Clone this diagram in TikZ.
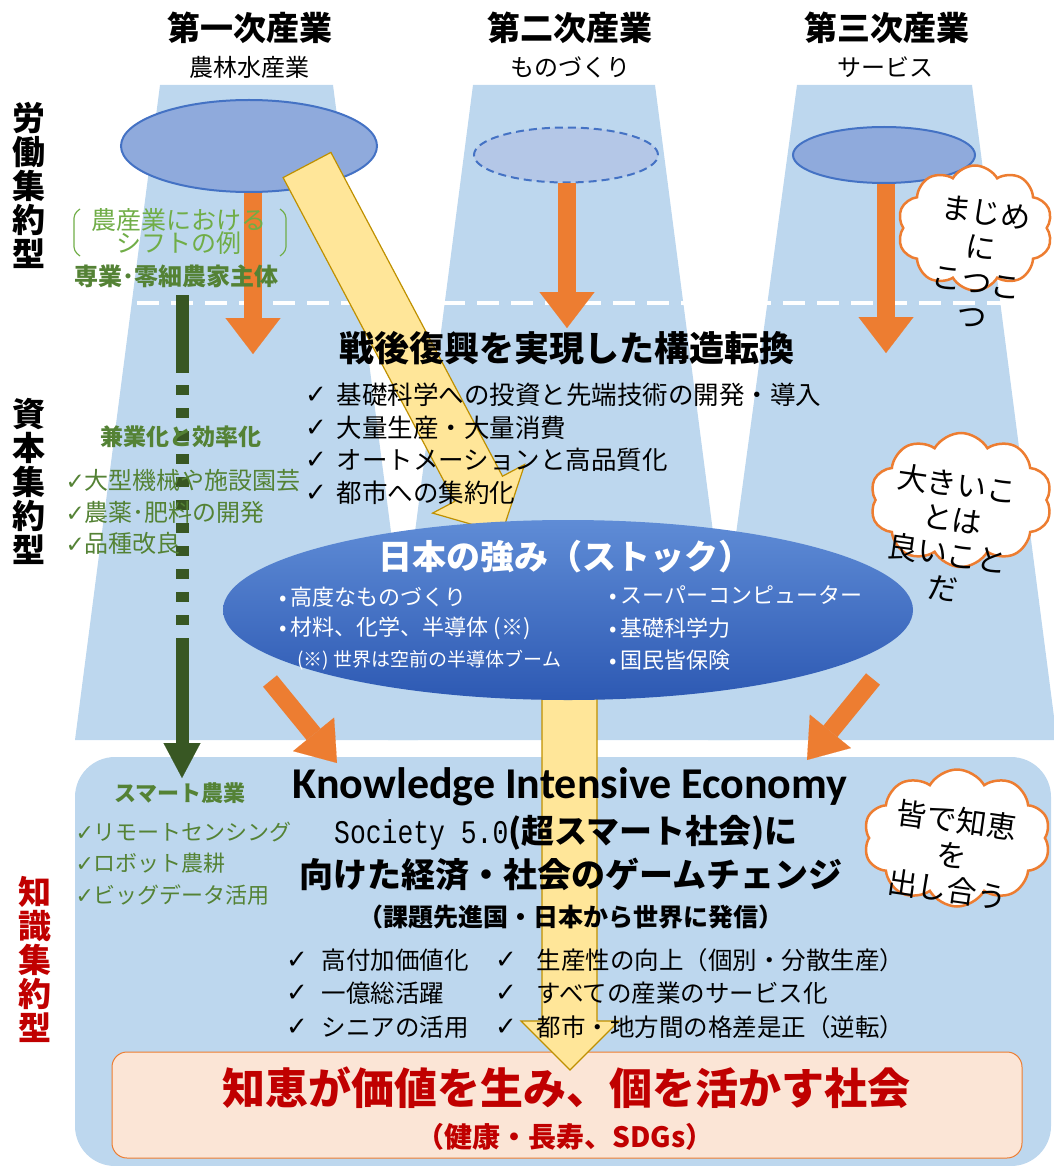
\documentclass[tikz,border=0pt]{standalone}
\usepackage{fontspec}
\setmainfont{Noto Sans CJK JP}
\newfontfamily\dejavu{DejaVu Sans}
\newfontfamily\carlito{Carlito}
\newfontfamily\monof[FakeStretch=0.8]{Liberation Mono}
\usetikzlibrary{shapes.geometric,shapes.symbols,arrows.meta}
\newcommand{\fsz}[2]{\fontsize{#1}{#2}\selectfont}
\newcommand{\chk}{{\dejavu ✓}}
\definecolor{lblue}{HTML}{BDD7EE}
\definecolor{ellfill}{HTML}{8FAADC}
\definecolor{ellfilltwo}{HTML}{B4C7E7}
\definecolor{ellline}{HTML}{4472C4}
\definecolor{orng}{HTML}{ED7D31}
\definecolor{ylw}{HTML}{FFE699}
\definecolor{ylwline}{HTML}{BF9000}
\definecolor{grn}{HTML}{548235}
\definecolor{lgrn}{HTML}{70AD47}
\definecolor{dgrn}{HTML}{385723}
\definecolor{redc}{HTML}{C00000}
\definecolor{pinkf}{HTML}{FBE5D6}
\definecolor{bigtop}{HTML}{5F8CD6}
\definecolor{bigbot}{HTML}{2D59B3}
\begin{document}
\begin{tikzpicture}[x=1pt,y=-1pt,
  hdr/.style={font=\bfseries\fsz{33}{36}},
  subhdr/.style={font=\fsz{24}{28}},
  vlab/.style={font=\bfseries\fsz{33}{34},align=center},
  colell/.style={ellipse,draw=ellline,line width=2pt,fill=ellfill,inner sep=0pt},
  orarr/.style={draw=orng,line width=18pt,-{Triangle[length=36pt,width=55pt,line width=0.1pt]}},
  ylwshape/.style={fill=ylw,draw=ylwline,line width=1.2pt,line join=miter},
  gtxt/.style={text=grn,font=\fsz{24}{28},anchor=west},
  gbold/.style={text=grn,font=\bfseries\fsz{23}{28}},
  ctxt/.style={font=\fsz{25.5}{30},anchor=west},
  etxt/.style={text=white,font=\fsz{22}{26},anchor=west},
  btxt/.style={font=\fsz{24.5}{30},anchor=west},
  cloudbox/.style={cloud,cloud puffs=10,cloud puff arc=120,draw=orng,fill=white,line width=2.5pt,inner sep=0pt},
  cloudtxt/.style={font=\fsz{30}{35},align=center,rotate=-8}]
\useasboundingbox (0,0) rectangle (1053,1166);
% column trapezoids
\fill[lblue] (160,85) -- (333,85) -- (418,740) -- (75,740) -- cycle;
\fill[lblue] (473,85) -- (655,85) -- (740,740) -- (388,740) -- cycle;
\fill[lblue] (797,85) -- (972,85) -- (1057,740) -- (708,740) -- cycle;
% knowledge area
\fill[lblue,rounded corners=40pt] (75,757) rectangle (1051,1166);
% dashed boundary
\coordinate (dl) at (137,303);
\coordinate (dr) at (1010,303);
\draw[white,line width=4pt,dash pattern=on 22pt off 12pt] (dl) -- (dr);
% column headers
\node[hdr] (h1) at (250,28) {第一次産業};
\node[subhdr] (s1) at (249,67) {農林水産業};
\node[hdr] (h2) at (570,28) {第二次産業};
\node[subhdr] (s2) at (570,67) {ものづくり};
\node[hdr] (h3) at (887,28) {第三次産業};
\node[subhdr] (s3) at (885,67) {サービス};
% vertical labels
\node[vlab] (v1) at (29,185) {労\\働\\集\\約\\型};
\node[vlab] (v2) at (29,481) {資\\本\\集\\約\\型};
\node[vlab,text=redc] (v3) at (35,959) {知\\識\\集\\約\\型};
% column ellipses
\node[colell,minimum width=256pt,minimum height=92pt] (e1) at (249,146) {};
\node[ellipse,draw=ellline,dash pattern=on 8pt off 5pt,line width=2pt,fill=ellfilltwo,inner sep=0pt,minimum width=184pt,minimum height=55pt] (e2) at (566,155) {};
\node[colell,minimum width=182pt,minimum height=56pt] (e3) at (884,155) {};
% orange down arrows
\coordinate (t1) at (253,354);
\coordinate (t2) at (567,328);
\coordinate (t3) at (886,353);
\draw[orarr] (t1 |- e1.south) -- (t1);
\draw[orarr] (t2 |- e2.south) -- (t2);
\draw[orarr] (t3 |- e3.south) -- (t3);
% yellow diagonal arrow
\filldraw[ylwshape] (330.9,152.4) -- (502.5,476.2) -- (524.6,464.5) -- (502,533) -- (432.6,513.1) -- (454.7,501.4) -- (283.1,177.6) -- cycle;
% clouds
\node[cloudbox,minimum width=155pt,minimum height=125pt,aspect=1.24] (c1) at (975,228) {};
\node[cloudtxt] (c1t) at (979,264) {まじめ\\に\\こつこ\\つ};
\node[cloudbox,minimum width=182pt,minimum height=134pt,aspect=1.36] (c2) at (961,500) {};
\node[cloudtxt] (c2t) at (950,536) {大きいこ\\とは\\良いこと\\だ};
% green shift example
\draw[lgrn,line width=1.2pt,rounded corners=4pt] (80,209) -- (74,214) -- (74,251) -- (80,256);
\draw[lgrn,line width=1.2pt,rounded corners=4pt] (280,209) -- (286,214) -- (286,251) -- (280,256);
\node[text=lgrn,font=\fsz{25}{23},align=center] (shift) at (179,232) {農産業における\\シフトの例};
\node[gbold,font=\bfseries\fsz{24}{28}] (g0) at (176,276) {専業･零細農家主体};
% dark green dash-dot arrow
\coordinate (gs) at (182,295);
\coordinate (ge) at (182,778);
\draw[dgrn,line width=13pt,dash pattern=on 78pt off 12pt on 10pt off 13pt on 10pt off 13pt on 10pt off 13pt on 10pt off 13pt on 10pt off 13pt on 10pt off 13pt on 10pt off 13pt on 10pt off 13pt on 10pt off 13pt on 10pt off 13pt on 10pt off 13pt on 300pt off 10pt,-{Triangle[length=35pt,width=37pt,line width=0.1pt]}] (gs) -- (ge);
\node[gbold] (g1) at (181,437) {兼業化と効率化};
\node[gtxt] (g2) at (62,480) {{\dejavu\fsz{23}{24}✓}大型機械や施設園芸};
\node[gtxt] (g3) at (62,512) {{\dejavu\fsz{23}{24}✓}農薬･肥料の開発};
\node[gtxt] (g4) at (62,543) {{\dejavu\fsz{23}{24}✓}品種改良};
% postwar block
\node[font=\bfseries\fsz{35}{40}] (pw) at (567,348) {戦後復興を実現した構造転換};
\node[font=\fsz{26}{28}] (pc1) at (316,395) {\chk};
\node[font=\fsz{26}{28}] (pc2) at (316,428) {\chk};
\node[font=\fsz{26}{28}] (pc3) at (316,460) {\chk};
\node[font=\fsz{26}{28}] (pc4) at (316,493) {\chk};
\node[ctxt] (p1) at (333,395) {基礎科学への投資と先端技術の開発・導入};
\node[ctxt] (p2) at (333,428) {大量生産・大量消費};
\node[ctxt] (p3) at (333,460) {オートメーションと高品質化};
\node[ctxt] (p4) at (333,493) {都市への集約化};
% goal box
\node[draw=orng,fill=pinkf,rounded corners=15pt,line width=1pt,minimum width=910pt,minimum height=106pt] (pb) at (567,1105) {};
% vertical yellow arrow
\filldraw[ylwshape] (542,690) -- (597,690) -- (597,1021) -- (619,1021) -- (570,1070) -- (521,1021) -- (542,1021) -- cycle;
% strength ellipse
\node[ellipse,top color=bigtop,bottom color=bigbot,inner sep=0pt,minimum width=690pt,minimum height=180pt] (big) at (568,610) {};
\node[text=white,font=\bfseries\fsz{34}{38}] (bt) at (565,557) {日本の強み（ストック）};
\node[etxt] (b1) at (276,597) {•\,高度なものづくり};
\node[etxt] (b2) at (276,628) {•\,材料、化学、半導体 (※)};
\node[etxt,font=\fsz{19}{22}] (b3) at (294,660) {(※) 世界は空前の半導体ブーム};
\node[etxt] (b4) at (606,595) {•\,スーパーコンピューター};
\node[etxt] (b5) at (606,628) {•\,基礎科学力};
\node[etxt] (b6) at (606,660) {•\,国民皆保険};
% orange diagonal arrows
\coordinate (da1) at (270,681);
\coordinate (db1) at (337,763);
\coordinate (da2) at (873,679);
\coordinate (db2) at (807,760);
\draw[draw=orng,line width=18pt,-{Triangle[length=37pt,width=53pt,line width=0.1pt]}] (da1) -- (db1);
\draw[draw=orng,line width=18pt,-{Triangle[length=37pt,width=53pt,line width=0.1pt]}] (da2) -- (db2);
% smart agriculture
\node[gbold,font=\bfseries\fsz{22}{26}] (sa) at (180,793) {スマート農業};
\node[gtxt,font=\fsz{22}{26}] (sa1) at (72,832) {{\dejavu\fsz{22}{24}✓}リモートセンシング};
\node[gtxt,font=\fsz{22}{26}] (sa2) at (72,863) {{\dejavu\fsz{22}{24}✓}ロボット農耕};
\node[gtxt,font=\fsz{22}{26}] (sa3) at (72,895) {{\dejavu\fsz{22}{24}✓}ビッグデータ活用};
% knowledge block
\node[font=\carlito\bfseries\fsz{44}{50}] (ke) at (570,787) {Knowledge Intensive Economy};
\node (so) at (566,833) {{\monof\fsz{33}{36}Society 5.0}{\bfseries\fsz{33}{36}(超スマート社会)に}};
\node[font=\bfseries\fsz{34}{40}] (gc) at (571,875) {向けた経済・社会のゲームチェンジ};
\node[font=\bfseries\fsz{25}{30}] (ka) at (571,917) {（課題先進国・日本から世界に発信）};
\node[font=\fsz{26}{28}] (kc1) at (297,960) {\chk};
\node[font=\fsz{26}{28}] (kc2) at (297,993) {\chk};
\node[font=\fsz{26}{28}] (kc3) at (297,1027) {\chk};
\node[font=\fsz{26}{28}] (kc4) at (506,960) {\chk};
\node[font=\fsz{26}{28}] (kc5) at (506,993) {\chk};
\node[font=\fsz{26}{28}] (kc6) at (506,1027) {\chk};
\node[btxt] (k1) at (318,960) {高付加価値化};
\node[btxt] (k2) at (318,993) {一億総活躍};
\node[btxt] (k3) at (318,1027) {シニアの活用};
\node[btxt] (k4) at (533,960) {生産性の向上（個別・分散生産）};
\node[btxt] (k5) at (533,993) {すべての産業のサービス化};
\node[btxt] (k6) at (533,1027) {都市・地方間の格差是正（逆転）};
\node[cloudbox,minimum width=187pt,minimum height=137pt,aspect=1.36] (c3) at (957,838) {};
\node[cloudtxt] (c3t) at (952,855) {皆で知恵\\を\\出し合う};
% goal text
\node[text=redc,font=\bfseries\fsz{43}{48}] (gt1) at (566,1088) {知恵が価値を生み、個を活かす社会};
\node[text=redc,font=\bfseries\fsz{28}{32}] (gt2) at (565,1137) {（健康・長寿、SDGs）};
\end{tikzpicture}
\end{document}
